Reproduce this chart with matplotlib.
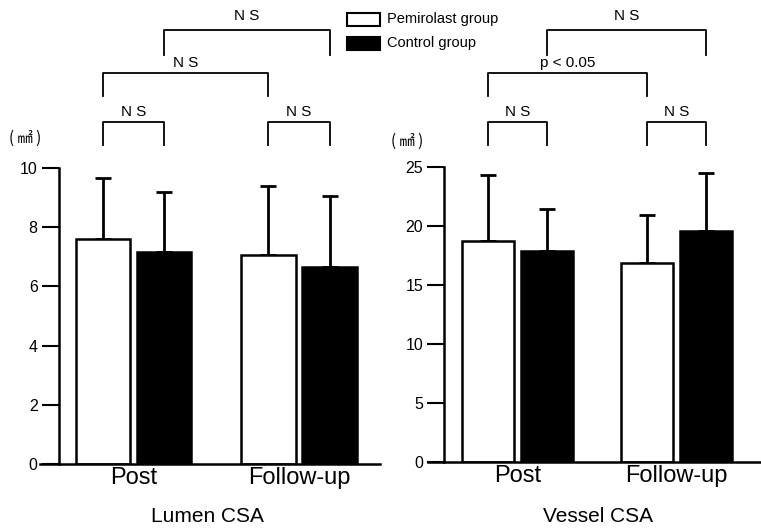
import matplotlib
matplotlib.use("Agg")
import matplotlib.pyplot as plt
import matplotlib.transforms as mtransforms
from matplotlib.patches import Rectangle

plt.rcParams["font.family"] = ["Liberation Sans", "DejaVu Sans"]

groups = ["Post", "Follow-up"]
series = ["Pemirolast group", "Control group"]

lumen_mean = {"Pemirolast group": [7.6, 7.05], "Control group": [7.15, 6.65]}
lumen_sd = {"Pemirolast group": [2.05, 2.35], "Control group": [2.05, 2.4]}
vessel_mean = {"Pemirolast group": [18.7, 16.9], "Control group": [17.9, 19.6]}
vessel_sd = {"Pemirolast group": [5.6, 4.0], "Control group": [3.5, 4.9]}

lumen_ticks = [0, 2, 4, 6, 8, 10]
vessel_ticks = [0, 5, 10, 15, 20, 25]

# (x1 group, x1 series, x2 group, x2 series, label)
lumen_brackets = [
    (0, 0, 0, 1, "N S"),
    (1, 0, 1, 1, "N S"),
    (0, 0, 1, 0, "N S"),
    (0, 1, 1, 1, "N S"),
]
vessel_brackets = [
    (0, 0, 0, 1, "N S"),
    (1, 0, 1, 1, "N S"),
    (0, 0, 1, 0, "p < 0.05"),
    (0, 1, 1, 1, "N S"),
]

W, H = 761, 529
fig = plt.figure(figsize=(W / 100, H / 100), dpi=100)


def fy(px):
    return 1 - px / H


def draw_panel(rect, xlim, spine_x, means, sds, ticks, brackets, levels):
    ax = fig.add_axes(rect)
    width = 0.33
    offs = [-0.185, 0.185]
    colors = ["white", "black"]
    for i, s in enumerate(series):
        xs = [g + offs[i] for g in range(len(groups))]
        ax.bar(xs, means[s], width=width, color=colors[i], edgecolor="black",
               linewidth=1.8, zorder=2)
        ax.errorbar(xs, means[s], yerr=[[0] * len(xs), sds[s]], fmt="none",
                    ecolor="black", elinewidth=2, capsize=5.5, capthick=2, zorder=1)
    ax.set_ylim(0, ticks[-1])
    ax.set_yticks(ticks)
    ax.set_xticks(range(len(groups)))
    ax.set_xticklabels(groups, fontsize=17)
    ax.tick_params(axis="x", length=0, pad=2)
    ax.tick_params(axis="y", length=12, width=1.5, labelsize=11.5, pad=3)
    for side in ["top", "right"]:
        ax.spines[side].set_visible(False)
    ax.spines["left"].set_position(("data", spine_x))
    ax.spines["left"].set_linewidth(1.8)
    ax.spines["bottom"].set_linewidth(1.8)
    ax.set_xlim(*xlim)

    tr = mtransforms.blended_transform_factory(ax.transData, fig.transFigure)
    for (g1, s1, g2, s2, lab), (top, bot, ty) in zip(brackets, levels):
        x1 = g1 + offs[s1]
        x2 = g2 + offs[s2]
        ax.plot([x1, x1, x2, x2], [fy(bot), fy(top), fy(top), fy(bot)],
                color="black", lw=1.3, transform=tr, clip_on=False)
        ax.text((x1 + x2) / 2, fy(ty), lab, transform=tr, ha="center",
                va="center", fontsize=11)
    return ax


levels = [(122, 145, 112), (122, 145, 112), (73, 96, 63), (30, 55, 16)]

# left panel: axes spans pixel 40..380, spine at 58
axL = draw_panel([40 / W, fy(464), 340 / W, (464 - 168) / H], (-0.565, 1.49), -0.453,
                 lumen_mean, lumen_sd, lumen_ticks, lumen_brackets, levels)
# right panel: axes spans pixel 428..761, spine at 444
axR = draw_panel([428 / W, fy(462), 333 / W, (462 - 167) / H], (-0.562, 1.53), -0.462,
                 vessel_mean, vessel_sd, vessel_ticks, vessel_brackets, levels)

fig.text(207 / W, fy(517), "Lumen CSA", ha="center", va="center", fontsize=15)
fig.text(598 / W, fy(517), "Vessel CSA", ha="center", va="center", fontsize=15)

unit_font = ["Noto Sans CJK JP", "DejaVu Sans"]
fig.text(25 / W, fy(138), "( ㎟ )", ha="center", va="center", fontsize=11,
         family=unit_font)
fig.text(407 / W, fy(141), "( ㎟ )", ha="center", va="center", fontsize=11,
         family=unit_font)

# legend
for i, s in enumerate(series):
    y0 = 13 + i * 24
    fig.patches.append(Rectangle((347 / W, fy(y0 + 13)), 33 / W, 13 / H,
                                 facecolor=["white", "black"][i], edgecolor="black",
                                 linewidth=1.5, transform=fig.transFigure))
    fig.text(387 / W, fy(y0 + 6.5), s, ha="left", va="center", fontsize=10.5)

fig.savefig("out.png", dpi=100)
